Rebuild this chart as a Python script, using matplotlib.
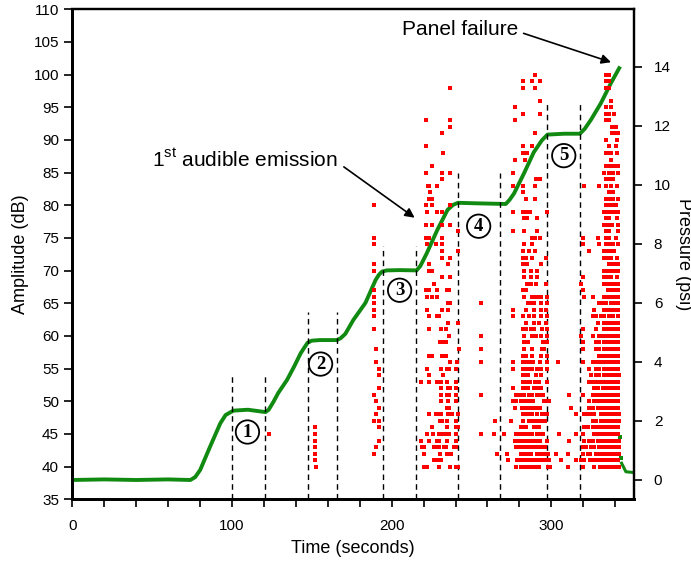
import matplotlib
matplotlib.use("Agg")
import matplotlib.pyplot as plt
from matplotlib.ticker import MultipleLocator, FixedLocator, NullFormatter

plt.rcParams['font.family'] = ['Liberation Sans', 'DejaVu Sans']
plt.rcParams['mathtext.fontset'] = 'custom'
plt.rcParams['mathtext.rm'] = 'Liberation Sans'

# ---- pressure history (right axis, psi) ----
pressure_time = [0, 20, 40, 60, 74, 77, 80.1, 86.3, 92.7, 96, 98.9, 101, 110, 121,
                 123, 126, 129, 134.5, 139, 143, 145.5, 147.4, 150, 155, 165.6,
                 168, 171, 176, 183.6, 190, 192, 194, 197, 205, 215.6,
                 218, 222, 228.6, 235, 238.5, 241.5, 255, 271.5,
                 274, 276.7, 283, 289, 294, 297.6, 308, 317.9,
                 321, 324.8, 331, 337.3, 342.5]
pressure_psi = [0.0, 0.02, 0.0, 0.02, 0.0, 0.1, 0.34, 1.13, 1.92, 2.2, 2.29, 2.35, 2.38, 2.3,
                2.38, 2.65, 2.95, 3.39, 3.85, 4.29, 4.5, 4.65, 4.72, 4.74, 4.74,
                4.8, 4.95, 5.42, 6.0, 6.78, 6.95, 7.06, 7.1, 7.11, 7.1,
                7.25, 7.68, 8.47, 9.15, 9.32, 9.39, 9.37, 9.35,
                9.5, 9.71, 10.4, 11.1, 11.5, 11.7, 11.73, 11.73,
                11.9, 12.2, 12.76, 13.44, 13.95]
# readings after the panel let go
drop_time = [343.2, 343.6]
drop_psi = [1.47, 0.73]
tail_time = [344.0, 346.7, 352.0]
tail_psi = [0.57, 0.28, 0.25]

# ---- acoustic emission hits (left axis): (amplitude dB, [times s]) ----
hits_120 = [(45, [123.4])]
hits_150 = [(46, [151.8]), (45, [151.8]), (44, [151.8]), (43, [151.8]), (42, [151.8]),
            (41, [151.8]), (40, [152.4])]
hits_190 = [(80, [188.8]), (75, [188.8]), (74, [188.8]), (71, [188.8]), (70, [188.8]),
            (67, [188.8]), (66, [188.8]), (65, [188.8]), (64, [188.8]), (63, [188.8]),
            (61, [188.8]), (58, [190.5]), (56, [190.5]), (55, [192.0]), (54, [192.0]),
            (52, [192.0]), (51, [188.8]), (50, [190.5]), (49, [192.0]), (48, [190.5]),
            (47, [188.8, 192.0]), (46, [192.0]), (44, [192.0]), (43, [190.5]), (42, [188.8])]
hits_230 = [
    (98, [236.5]), (93, [221.7, 236.5]), (92, [236.5]), (91, [231.7]), (89, [221.7]),
    (88, [232.0]), (86, [225.5]), (85, [221.7, 231.7, 236.5]), (84, [231.7]),
    (83, [222.5, 223.3, 228.6]), (82, [224.0]), (81, [223.3, 225.5]),
    (80, [221.7, 225.5, 236.5]), (79, [222.0, 228.6, 231.7]),
    (77, [221.7, 225.5, 231.7, 236.5]), (76, [241.8]), (75, [221.7, 223.3, 231.7]),
    (74, [222.0, 227.5, 231.7]), (73, [231.7, 241.8]), (72, [231.7, 236.5]),
    (71, [223.3, 235.5]), (70, [223.3, 225.5]), (69, [231.7, 236.5]), (68, [226.5]),
    (67, [221.7, 223.3, 228.6, 234.5, 236.0]), (66, [222.0, 225.5, 228.6]),
    (65, [235.5, 236.5]), (64, [222.0, 231.7, 235.5]), (63, [223.5, 228.6, 229.6]),
    (62, [235.5, 241.8]), (61, [223.5, 230.7, 234.0]), (60, [236.0]),
    (59, [230.0, 231.7, 234.0]), (58, [242.2]), (57, [223.5, 225.5, 231.7, 234.0]),
    (56, [236.5, 241.2]), (55, [222.0, 231.2, 234.5, 236.0, 240.0]), (54, [223.5, 232.0]),
    (53, [218.7, 223.5, 228.6, 230.0, 231.2, 234.5, 240.5]),
    (52, [231.2, 235.5, 236.8, 240.5]), (51, [231.2, 234.5, 236.0, 240.5]),
    (50, [230.8, 235.5, 240.0]), (49, [234.5, 236.0]),
    (48, [223.5, 228.0, 229.6, 230.8, 235.5, 236.8, 238.0, 241.8]),
    (47, [230.5, 231.7, 234.5, 240.0]), (46, [225.5, 234.5, 240.0, 241.8]),
    (45, [222.0, 226.0, 229.6, 230.8, 232.0, 234.5, 236.0, 240.5]),
    (44, [218.7, 223.5, 228.2, 229.6, 234.5, 240.5]),
    (43, [219.0, 220.2, 226.5, 228.0, 229.6, 232.7, 233.8, 239.2, 240.0]),
    (42, [220.2, 230.2, 234.5, 236.0, 237.4]), (41, [226.5, 228.0, 229.6, 230.8]),
    (40, [220.2, 222.0, 229.6, 236.5, 240.0, 241.8])]
hits_260 = [(65, [255.8]), (60, [255.8]), (58, [255.8]), (56, [255.8]), (51, [255.8]),
            (47, [264.6, 274.6]), (45, [255.8, 264.4, 270.6]), (42, [265.8, 272.5]),
            (41, [272.9])]
hits_285 = [
    (100, [289.7]), (99, [282.0, 288.0, 292.8]), (98, [282.0, 289.7]), (96, [292.8]),
    (95, [277.2]), (94, [282.0, 292.8]), (93, [277.2]), (91, [289.7]),
    (89, [282.0, 288.0]), (88, [282.0, 285.0]), (87, [277.2, 283.5]), (85, [276.2]),
    (84, [290.5, 292.8]), (83, [276.2, 282.0, 289.7]), (82, [282.0]), (81, [284.0, 290.0]),
    (79, [276.2, 282.0, 283.5, 285.0, 286.6, 297.0]), (78, [283.0, 284.5, 291.3]),
    (76, [276.2, 283.0, 291.3]), (75, [288.0, 289.7, 292.8]), (74, [283.0, 287.7]),
    (73, [282.4, 286.1, 289.7]), (72, [282.0, 284.0, 288.0, 296.5]),
    (71, [282.0, 284.0, 285.0, 293.4]), (70, [283.0, 287.5, 291.3]),
    (69, [283.0, 287.0, 291.3]), (68, [285.0, 286.0, 287.0, 290.3, 296.5]),
    (67, [282.4, 284.0]), (66, [283.0, 288.0, 289.5, 291.3, 293.4, 297.0]),
    (65, [285.1, 287.1, 289.2, 293.4, 297.0]), (64, [276.2, 284.0, 289.2, 293.4, 296.5]),
    (63, [276.2, 282.0, 286.1, 289.2, 293.4, 297.0]), (62, [284.0, 289.2, 292.3, 296.5]),
    (61, [282.0, 283.0, 284.0, 287.1, 289.2, 294.0, 297.0]),
    (60, [283.0, 288.2, 290.3, 293.4, 297.0]), (59, [283.0, 284.0, 285.1, 294.5, 297.0]),
    (58, [283.0, 287.7, 294.0, 295.5]), (57, [282.0, 283.0, 284.0, 287.7, 293.4, 297.0]),
    (56, [276.2, 282.0, 283.6, 285.2, 287.1, 288.6, 292.8, 297.0, 303.9]),
    (55, [276.2, 282.0, 284.0, 286.1, 288.2, 291.3, 293.4, 297.0]),
    (54, [282.0, 283.6, 285.2, 290.3, 293.4]),
    (53, [282.0, 283.6, 285.2, 286.6, 289.7, 292.3, 297.0]),
    (52, [276.2, 282.0, 283.6, 285.2, 289.2, 290.8, 293.4]),
    (51, [278.1, 279.8, 281.5, 283.1, 286.1, 287.7, 291.3, 292.8, 294.5, 311.2]),
    (50, [276.0, 277.6, 281.0, 282.4, 284.2, 285.9, 287.5, 288.8, 295.5, 297.0, 298.3]),
    (49, [277.0, 281.4, 283.0, 284.6, 286.3, 287.9, 289.6, 291.3, 292.9, 312.2]),
    (48, [282.0, 284.0, 286.1, 288.2, 291.3, 294.0, 295.5, 297.0]),
    (47, [282.0, 286.1, 287.7, 289.2, 290.8, 292.5, 294.1, 295.8]),
    (46, [281.0, 282.4, 284.2, 289.2, 290.8, 292.5]),
    (45, [278.0, 279.8, 281.5, 284.0, 286.1, 288.2, 291.3, 292.9, 294.6, 304.9, 315.4]),
    (44, [277.0, 278.6, 280.3, 282.0, 283.6, 285.2, 286.8, 288.5, 291.3, 292.8, 297.6, 311.2]),
    (43, [278.0, 279.7, 281.3, 283.0, 284.6, 286.3, 287.9, 289.6, 291.2, 292.9, 294.5, 296.2]),
    (42, [281.0, 282.4, 284.2, 285.9, 287.5, 291.3, 292.9, 294.6, 296.3, 297.9, 302.8, 310.2]),
    (41, [278.8, 280.5, 282.2, 283.8, 285.5, 287.2, 288.8, 290.5, 292.1, 293.8, 295.5,
          297.1, 298.8, 306.0]),
    (40, [278.0, 281.0, 282.6, 284.3, 285.9, 287.5, 289.2, 290.8, 292.4, 298.0, 299.3, 310.6])]
hits_335 = [
    (100, [334.2, 336.3]), (99, [334.2, 336.3]), (98, [334.2, 336.3]), (96, [337.3]),
    (95, [334.2, 337.3]), (94, [334.2, 336.3, 339.4]), (93, [334.2, 336.3]),
    (92, [338.0, 340.5]), (91, [338.0, 340.2, 342.0]), (90, [334.2, 341.0]),
    (89, [336.3, 340.5]), (88, [334.2, 335.9, 337.5, 341.0]), (87, [337.3]),
    (86, [334.2, 335.9, 337.5, 339.2, 341.5]), (85, [333.1, 336.3, 338.4, 341.5]),
    (84, [334.2, 336.3, 338.4]), (83, [320.6, 330.0, 334.2, 337.3, 341.0]),
    (82, [336.3, 338.4]), (81, [334.2, 336.3, 338.4, 341.5]),
    (80, [334.2, 336.3, 338.4, 340.5]), (79, [333.1, 335.3, 337.3, 339.4, 341.5]),
    (78, [334.2, 336.3, 341.0]), (77, [333.1, 334.7, 336.5, 338.2, 341.5]),
    (76, [334.2, 336.3, 341.5]), (75, [319.6, 329.5, 334.2, 336.3, 340.5]),
    (74, [319.6, 330.0, 334.2, 336.3, 338.4, 341.5]),
    (73, [323.7, 332.7, 334.4, 336.0, 337.7, 339.4]), (72, [333.1, 335.3, 337.3, 341.0]),
    (71, [336.3, 338.4, 340.5, 342.0]), (70, [333.1, 335.3, 337.3, 339.4, 341.5]),
    (69, [319.6, 333.1, 335.3, 337.3, 341.0]),
    (68, [318.5, 333.1, 335.3, 337.3, 339.4, 341.5]),
    (67, [319.6, 335.3, 337.3, 339.4, 341.5]),
    (66, [320.6, 325.8, 333.1, 335.3, 337.3, 339.4, 341.5]),
    (65, [330.0, 332.1, 334.2, 337.3, 339.4, 341.5]),
    (64, [326.9, 333.1, 335.3, 337.3, 339.4, 341.5]),
    (63, [325.8, 327.9, 331.1, 333.1, 336.3, 338.4, 341.8]),
    (62, [329.0, 333.1, 335.3, 337.3, 339.4, 341.5]),
    (61, [319.6, 327.9, 333.1, 335.3, 337.3, 339.4, 341.5]),
    (60, [318.5, 325.8, 330.0, 332.1, 334.2, 336.3, 338.4, 340.5, 342.0]),
    (59, [319.6, 327.9, 330.0, 333.1, 335.3, 337.3, 339.4, 341.5]),
    (58, [319.6, 327.9, 330.0, 333.1, 335.3, 337.3, 339.4, 341.5]),
    (57, [330.0, 332.1, 334.2, 336.3, 338.4, 340.5, 342.0]),
    (56, [319.6, 325.8, 327.9, 330.0, 332.1, 334.2, 336.3, 338.4, 340.5, 342.0]),
    (55, [323.7, 327.9, 330.0, 333.1, 335.3, 337.3, 339.4, 341.5]),
    (54, [324.8, 327.9, 329.6, 332.7, 334.4, 336.0, 337.7, 339.4, 341.0, 342.2]),
    (53, [323.7, 325.8, 327.9, 330.0, 332.1, 334.2, 336.3, 338.4, 340.5, 342.0]),
    (52, [326.9, 329.0, 332.1, 333.8, 335.5, 337.1, 338.8, 340.5, 342.0]),
    (51, [319.6, 325.8, 327.9, 330.0, 332.1, 333.8, 335.5, 337.1, 338.8, 340.5, 342.0]),
    (50, [323.7, 326.9, 329.0, 331.1, 333.1, 335.3, 337.3, 339.4, 341.5]),
    (49, [323.7, 325.8, 329.0, 331.1, 333.1, 335.3, 337.3, 339.4, 341.5]),
    (48, [315.4, 320.6, 322.7, 324.8, 326.9, 331.1, 332.7, 334.4, 336.0, 337.7, 339.4,
          341.0, 342.2]),
    (47, [325.8, 327.9, 331.1, 332.7, 334.4, 336.0, 337.7, 339.4, 341.0, 342.2]),
    (46, [320.6, 322.7, 325.8, 327.9, 330.0, 332.1, 333.8, 335.5, 337.1, 338.8, 340.5, 342.0]),
    (45, [319.6, 326.9, 329.0, 331.1, 333.1, 335.3, 337.3, 339.4, 341.5]),
    (44, [320.6, 323.7, 325.8, 329.0, 331.1, 332.7, 334.4, 336.0, 337.7, 339.4, 341.0, 342.2]),
    (43, [319.6, 321.6, 324.8, 326.9, 330.0, 332.1, 334.2, 335.9, 337.5, 339.2, 340.9, 342.2]),
    (42, [319.6, 322.7, 324.3, 327.9, 330.0, 332.1, 334.2, 335.9, 337.5, 339.2, 340.9, 342.2]),
    (41, [315.4, 318.5, 320.6, 324.3, 326.0, 327.7, 329.6, 332.1, 333.8, 335.5, 337.1,
          338.8, 340.5, 342.0]),
    (40, [319.6, 326.9, 330.6, 332.3, 334.0, 335.7, 337.3, 339.0, 340.7, 342.2])]

# hold periods: (start s, end s, dashed line height dB)
hold_start = [100.0, 147.5, 194.5, 241.5, 297.0]
hold_end = [121.0, 165.5, 215.5, 268.0, 318.0]
hold_top = [54.0, 63.7, 73.8, 85.0, 95.7]
hold_label = ['1', '2', '3', '4', '5']
label_time = [109.7, 155.5, 205.0, 254.5, 307.8]
label_db = [45.3, 55.7, 67.0, 76.8, 87.6]

# ---- figure ----
fig = plt.figure(figsize=(6.91, 5.67), dpi=100)
ax = fig.add_axes([0.1046, 0.1194, 0.8134, 0.8642])
ax2 = ax.twinx()

hit_t, hit_a = [], []
for group in (hits_120, hits_150, hits_190, hits_230, hits_260, hits_285, hits_335):
    for amp, times in group:
        hit_t.extend(times)
        hit_a.extend([amp] * len(times))
ax.scatter(hit_t, hit_a, marker='s', s=7, color='#ff0000', linewidths=0, zorder=3)

# dashed hold markers
for t0, t1, top in zip(hold_start, hold_end, hold_top):
    for t in (t0, t1):
        ax.plot([t, t], [35, top], color='black', lw=1.0, ls=(0, (4, 3)), zorder=2)

for lab, t, a in zip(hold_label, label_time, label_db):
    ax.text(t, a, lab, ha='center', va='center', fontsize=13.5, fontweight='bold',
            family='Liberation Serif', zorder=5,
            bbox=dict(boxstyle='circle,pad=0.17', fc='white', ec='black', lw=1.3))

ax.set_xlim(0, 352)
ax.set_ylim(35, 110)
ax.xaxis.set_major_locator(FixedLocator([0, 100, 200, 300]))
ax.xaxis.set_minor_locator(MultipleLocator(20))
ax.xaxis.set_minor_formatter(NullFormatter())
ax.yaxis.set_major_locator(MultipleLocator(5))
ax.tick_params(which='both', direction='out', length=6, width=1.2, labelsize=11)
ax.tick_params(axis='x', pad=8)
ax.set_xlabel('Time (seconds)', fontsize=13, labelpad=5)
ax.set_ylabel('Amplitude (dB)', fontsize=13, labelpad=3)

# pressure on the right axis
ax2.plot(pressure_time, pressure_psi, color='#118a11', lw=2.8, zorder=4)
ax2.plot(drop_time, drop_psi, 's', color='#118a11', ms=2.8, mew=0)
ax2.plot(tail_time, tail_psi, color='#118a11', lw=2.2)
ax2.set_ylim(-0.654, 15.945)
ax2.yaxis.set_major_locator(FixedLocator([0, 2, 4, 6, 8, 10, 12, 14]))
ax2.tick_params(direction='out', length=6, width=1.2, labelsize=11, pad=8)
ax2.set_ylabel('Pressure (psi)', fontsize=13, rotation=-90, va='center', ha='center')
ax2.yaxis.set_label_coords(1.087, 0.5)

for a in (ax, ax2):
    for side in ('left', 'bottom'):
        a.spines[side].set_linewidth(2.0)
    for side in ('top', 'right'):
        a.spines[side].set_linewidth(1.6)

ax.set_zorder(ax2.get_zorder() + 1)
ax.patch.set_visible(False)

# annotations
ax.annotate('1$^{\\mathrm{st}}$ audible emission', xy=(214.4, 78.1), xytext=(50.2, 86.9),
            fontsize=15, va='center', ha='left',
            arrowprops=dict(arrowstyle='-|>', color='black', lw=1.2, mutation_scale=14,
                            shrinkA=0, shrinkB=0, relpos=(1.03, 0.2)))
ax.annotate('Panel failure', xy=(337.4, 101.9), xytext=(206.2, 106.9),
            fontsize=15, va='center', ha='left',
            arrowprops=dict(arrowstyle='-|>', color='black', lw=1.2, mutation_scale=14,
                            shrinkA=0, shrinkB=0, relpos=(1.05, 0.3)))

fig.savefig('out.png', dpi=100, facecolor='white')
